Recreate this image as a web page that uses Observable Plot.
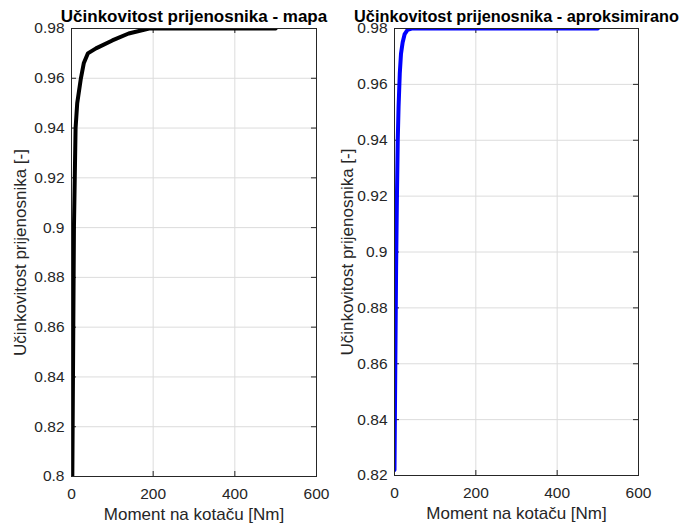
<!DOCTYPE html>
<html>
<head>
<meta charset="utf-8">
<script src="https://cdn.jsdelivr.net/npm/d3@7"></script>
<script src="https://cdn.jsdelivr.net/npm/@observablehq/plot@0.6"></script>
<style>
  html, body { margin: 0; padding: 0; background: #fff; }
  #wrap { position: relative; width: 688px; height: 526px; overflow: hidden; background: #fff; }
  #wrap > div { position: absolute; top: 0; }
  svg { font-family: "Liberation Sans", Arial, sans-serif; overflow: visible; }
</style>
</head>
<body>
<div id="wrap"><div id="left" style="left:0"></div><div id="right" style="left:344px"></div></div>
<script>
// Left subplot: efficiency map (black)
const mapTorque = [2, 4, 6, 8, 10, 14, 23, 30, 40, 60, 100, 140, 190, 230, 500];
const mapEff    = [0.80, 0.85, 0.90, 0.92, 0.94, 0.95, 0.96, 0.966, 0.97, 0.972, 0.9752, 0.978, 0.98, 0.98, 0.98];
// Right subplot: approximated (blue)
const aprTorque = [0, 2, 4, 6, 8, 10, 13, 16, 20, 25, 32, 42, 60, 500];
const aprEff    = [0.822, 0.86, 0.895, 0.92, 0.94, 0.952, 0.964, 0.971, 0.975, 0.978, 0.9795, 0.98, 0.98, 0.98];

const xTicks = [0, 200, 400, 600];
const yTicksLeft  = [0.8, 0.82, 0.84, 0.86, 0.88, 0.9, 0.92, 0.94, 0.96, 0.98];
const yTicksRight = [0.82, 0.84, 0.86, 0.88, 0.9, 0.92, 0.94, 0.96, 0.98];

const titleLeft  = "Učinkovitost prijenosnika - mapa";
const titleRight = "Učinkovitost prijenosnika - aproksimirano";
const xLabel = "Moment na kotaču [Nm]";
const yLabel = "Učinkovitost prijenosnika [-]";

const INK = "#262626";
const fmt = d => String(+d.toFixed(2));

function subplot({xs, ys, color, yDomain, yTicks, title, titleSize, margins}) {
  const W = 344, H = 526;
  const fw = W - margins.left - margins.right;
  const fh = H - margins.top - margins.bottom;
  const data = xs.map((x, i) => ({x, y: ys[i]}));
  return Plot.plot({
    width: W, height: H,
    marginLeft: margins.left, marginRight: margins.right,
    marginTop: margins.top, marginBottom: margins.bottom,
    style: {fontFamily: "'Liberation Sans', Arial, sans-serif", color: INK, background: "transparent", overflow: "visible"},
    x: {domain: [0, 600], ticks: xTicks},
    y: {domain: yDomain, ticks: yTicks},
    marks: [
      Plot.gridX(xTicks, {stroke: "#dcdcdc", strokeOpacity: 1}),
      Plot.gridY(yTicks, {stroke: "#dcdcdc", strokeOpacity: 1}),
      // inward ticks on all four sides
      Plot.tickX(xTicks, {x: d => d, insetTop: fh - 5, stroke: INK}),
      Plot.tickX(xTicks, {x: d => d, insetBottom: fh - 5, stroke: INK}),
      Plot.tickY(yTicks, {y: d => d, insetRight: fw - 5, stroke: INK}),
      Plot.tickY(yTicks, {y: d => d, insetLeft: fw - 5, stroke: INK}),
      Plot.axisX(xTicks, {anchor: "bottom", tickSize: 0, tickPadding: 11, fontSize: 15.5, label: null, fill: INK}),
      Plot.axisY(yTicks, {anchor: "left", tickSize: 0, tickPadding: 7, fontSize: 15.5, label: null, tickFormat: fmt, fill: INK}),
      Plot.line(data, {x: "x", y: "y", stroke: color, strokeWidth: 4, clip: true}),
      Plot.frame({stroke: INK, strokeWidth: 1}),
      Plot.text([title], {frameAnchor: "top", textAnchor: "middle", dy: -7, lineAnchor: "bottom", fontSize: titleSize, fontWeight: "bold", fill: "#000"}),
      Plot.text([xLabel], {frameAnchor: "bottom", textAnchor: "middle", dy: 38, lineAnchor: "middle", fontSize: 17, fill: INK}),
      Plot.text([yLabel], {frameAnchor: "left", textAnchor: "middle", dx: margins.ylab, rotate: -90, lineAnchor: "middle", fontSize: 17, fill: INK})
    ]
  });
}

document.getElementById("left").appendChild(subplot({
  xs: mapTorque, ys: mapEff, color: "#000", yDomain: [0.8, 0.98], yTicks: yTicksLeft,
  title: titleLeft, titleSize: 17, margins: {left: 71, right: 28, top: 28, bottom: 50, ylab: -51}
}));
document.getElementById("right").appendChild(subplot({
  xs: aprTorque, ys: aprEff, color: "#0000ff", yDomain: [0.82, 0.98], yTicks: yTicksRight,
  title: titleRight, titleSize: 16.3, margins: {left: 50, right: 50, top: 28, bottom: 51, ylab: -47}
}));
</script>
</body>
</html>
